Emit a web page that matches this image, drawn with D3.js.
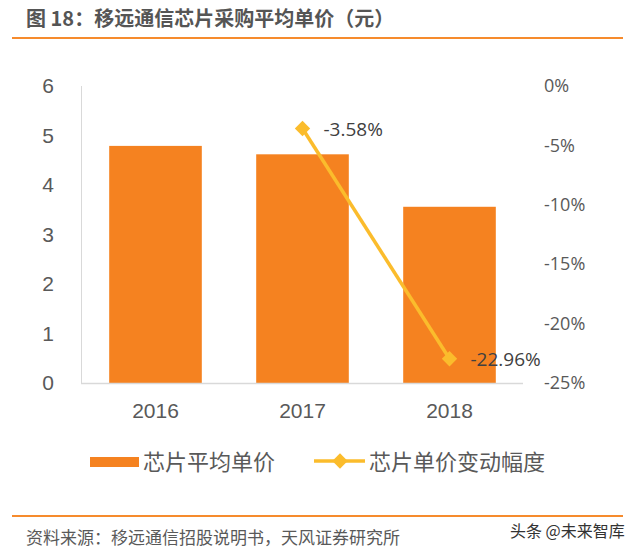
<html>
  <head>
    <meta charset="utf-8">
    <script src="https://d3js.org/d3.v7.min.js"></script>
  </head>
  <body style="margin:0;background:#fff">
    <svg id="chart" width="641" height="552"></svg>
    <script>
      // data
      const years = ['2016', '2017', '2018'];
      const avgPrice = [4.79, 4.62, 3.56];
      const changeYears = ['2017', '2018'];
      const changePct = [-3.58, -22.96];
      const leftTicks = [0, 1, 2, 3, 4, 5, 6];
      const rightTicks = [0, -5, -10, -15, -20, -25];

      const svg = d3.select('svg#chart');
      const cn = '"Noto Sans CJK SC", "Microsoft YaHei", sans-serif';
      const num = '"Liberation Sans", Arial, sans-serif';
      const orange = '#f58220';
      const yellow = '#fbbc2c';
      const textCol = '#595959';

      // title + rules
      svg.append('text').attr('x', 26).attr('y', 26)
        .style('font-family', cn).style('font-size', '20px').style('font-weight', 'bold')
        .style('fill', '#555')
        .text('图 18：移远通信芯片采购平均单价（元）');
      svg.append('line').attr('x1', 12).attr('x2', 623).attr('y1', 38).attr('y2', 38)
        .style('stroke', '#f68b2d').style('stroke-width', 2);
      svg.append('line').attr('x1', 12).attr('x2', 623).attr('y1', 516).attr('y2', 516)
        .style('stroke', '#f68b2d').style('stroke-width', 2);

      // scales
      const plotLeft = 82, plotRight = 523, plotTop = 86, plotBottom = 383;
      const x = d3.scaleBand().domain(years).range([plotLeft, plotRight])
        .paddingInner(0.37).paddingOuter(0.185);
      const yL = d3.scaleLinear().domain([0, 6]).range([plotBottom, plotTop]);
      const yR = d3.scaleLinear().domain([-25, 0]).range([plotBottom, plotTop]);

      // axis lines
      svg.append('line').attr('x1', plotLeft - 0.5).attr('x2', plotLeft - 0.5)
        .attr('y1', plotTop).attr('y2', plotBottom)
        .style('stroke', '#d9d9d9').style('stroke-width', 1);

      // bars
      svg.selectAll('rect.bar').data(years).enter().append('rect')
        .attr('class', 'bar')
        .attr('x', d => x(d))
        .attr('width', x.bandwidth())
        .attr('y', (d, i) => yL(avgPrice[i]))
        .attr('height', (d, i) => plotBottom - yL(avgPrice[i]))
        .style('fill', orange);

      svg.append('line').attr('x1', plotLeft - 1).attr('x2', plotRight)
        .attr('y1', plotBottom + 0.5).attr('y2', plotBottom + 0.5)
        .style('stroke', '#d9d9d9').style('stroke-width', 1.5);

      // left axis
      const leftAxis = d3.axisLeft(yL).tickValues(leftTicks).tickSize(0).tickPadding(0)
        .tickFormat(d3.format('d'));
      const gL = svg.append('g').attr('transform', `translate(54,0)`).call(leftAxis);
      gL.select('.domain').remove();
      gL.selectAll('text').style('font-family', num).style('font-size', '21px').style('fill', textCol);

      // right axis
      const rightAxis = d3.axisRight(yR).tickValues(rightTicks).tickSize(0).tickPadding(0)
        .tickFormat(d => d + '%');
      const gR = svg.append('g').attr('transform', `translate(544,0)`).call(rightAxis);
      gR.select('.domain').remove();
      gR.selectAll('text').style('font-family', '"Open Sans", sans-serif').style('font-size', '18px')
        .style('fill', textCol);

      // bottom axis labels
      const bottomAxis = d3.axisBottom(x).tickSize(0).tickPadding(0);
      const gB = svg.append('g').attr('transform', `translate(0,403)`).call(bottomAxis);
      gB.select('.domain').remove();
      gB.selectAll('text').style('font-family', num).style('font-size', '21px').style('fill', textCol);

      // change line
      const cx = d => x(d) + x.bandwidth() / 2;
      const pts = changeYears.map((d, i) => [cx(d), yR(changePct[i])]);
      svg.append('path').attr('d', d3.line()(pts))
        .style('fill', 'none').style('stroke', yellow).style('stroke-width', 3.5);
      svg.selectAll('path.marker').data(pts).enter().append('path')
        .attr('class', 'marker')
        .attr('d', d3.symbol().type(d3.symbolDiamond2).size(150)())
        .attr('transform', d => `translate(${d[0]},${d[1]})`)
        .style('fill', yellow);
      svg.selectAll('text.lbl').data(changePct).enter().append('text')
        .attr('class', 'lbl')
        .attr('x', (d, i) => pts[i][0] + 21)
        .attr('y', (d, i) => pts[i][1] + 7)
        .style('font-family', '"Open Sans", sans-serif').style('font-size', '19px').style('fill', '#404040')
        .text(d => d.toFixed(2) + '%');

      // legend
      svg.append('rect').attr('x', 90).attr('y', 457).attr('width', 49).attr('height', 10)
        .style('fill', orange);
      svg.append('text').attr('x', 143).attr('y', 470)
        .style('font-family', cn).style('font-size', '22px').style('fill', textCol)
        .text('芯片平均单价');
      svg.append('line').attr('x1', 314).attr('x2', 365).attr('y1', 461).attr('y2', 461)
        .style('stroke', yellow).style('stroke-width', 3.5);
      svg.append('path').attr('d', d3.symbol().type(d3.symbolDiamond2).size(150)())
        .attr('transform', 'translate(340,461)').style('fill', yellow);
      svg.append('text').attr('x', 369).attr('y', 470)
        .style('font-family', cn).style('font-size', '22px').style('fill', textCol)
        .text('芯片单价变动幅度');

      // footer
      svg.append('text').attr('x', 26).attr('y', 544)
        .style('font-family', cn).style('font-size', '17px').style('fill', textCol)
        .text('资料来源：移远通信招股说明书，天风证券研究所');
      svg.append('text').attr('x', 510).attr('y', 537)
        .style('font-family', cn).style('font-size', '16px').style('fill', '#333')
        .text('头条 @未来智库');
    </script>
  </body>
</html>
